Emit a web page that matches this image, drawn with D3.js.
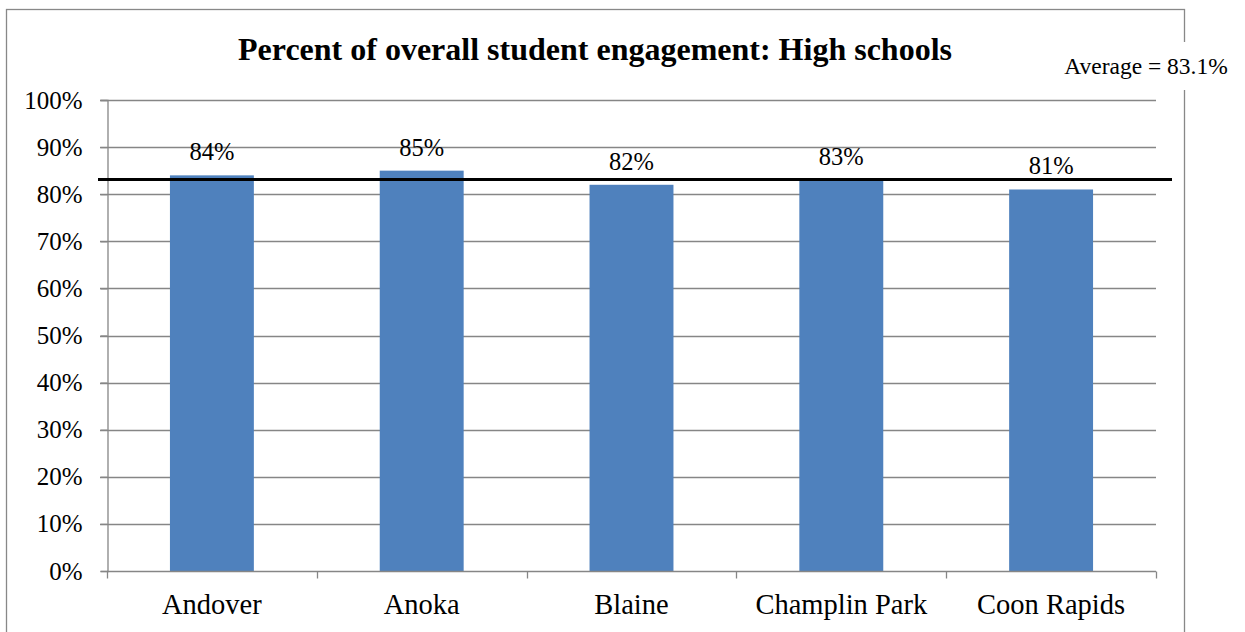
<!DOCTYPE html>
<html>
<head>
<meta charset="utf-8">
<script src="https://cdn.jsdelivr.net/npm/d3@7"></script>
<style>
  html, body { margin: 0; padding: 0; background: #fff; }
  svg { display: block; font-family: "Liberation Serif", "Times New Roman", serif; }
</style>
</head>
<body>
<svg id="chart" width="1245" height="632"></svg>
<script>
// Schools and their overall engagement percentages
const schools = ["Andover", "Anoka", "Blaine", "Champlin Park", "Coon Rapids"];
const engagement = [84, 85, 82, 83, 81];
const averageValue = 83.1;
const yTicks = [0, 10, 20, 30, 40, 50, 60, 70, 80, 90, 100];
const titleText = "Percent of overall student engagement: High schools";
const averageText = "Average = 83.1%";

const svg = d3.select("#chart");
const gridColor = "#868686";
const serif = "Liberation Serif, Times New Roman, serif";

// Outer chart frame
svg.append("rect")
  .attr("x", 6.5).attr("y", 9.5)
  .attr("width", 1178).attr("height", 640)
  .attr("fill", "#fff")
  .attr("stroke", "#888").attr("stroke-width", 1.3);

const plot = { left: 107, right: 1156, top: 100, bottom: 571 };

const x = d3.scaleBand()
  .domain(schools)
  .range([plot.left, plot.right])
  .paddingInner(0.6)
  .paddingOuter(0.3);

const xCat = d3.scaleBand().domain(schools).range([plot.left, plot.right]);

const y = d3.scaleLinear().domain([0, 100]).range([plot.bottom, plot.top]);

// Horizontal gridlines
svg.append("g").selectAll("line")
  .data(yTicks.filter(d => d > 0))
  .join("line")
  .attr("x1", plot.left - 7).attr("x2", plot.right)
  .attr("y1", d => Math.round(y(d)) + 0.5).attr("y2", d => Math.round(y(d)) + 0.5)
  .attr("stroke", gridColor).attr("stroke-width", 1.3);

// Y axis
const yAxis = svg.append("g")
  .attr("transform", `translate(${plot.left + 0.5},0)`)
  .call(d3.axisLeft(y).tickValues(yTicks).tickSize(7).tickFormat(d => d + "%").tickPadding(18));
yAxis.select(".domain").attr("stroke", gridColor).attr("stroke-width", 1.3);
yAxis.selectAll(".tick line").attr("stroke", gridColor).attr("stroke-width", 1.3);
yAxis.selectAll(".tick text")
  .attr("font-family", serif)
  .attr("font-size", 25).attr("fill", "#000");

// Bars
svg.append("g").selectAll("rect")
  .data(schools)
  .join("rect")
  .attr("x", d => x(d))
  .attr("width", x.bandwidth())
  .attr("y", (d, i) => y(engagement[i]))
  .attr("height", (d, i) => y(0) - y(engagement[i]))
  .attr("fill", "#4F81BD");

// X axis with ticks at category boundaries
const xAxisG = svg.append("g").attr("transform", `translate(0,${plot.bottom + 0.5})`);
xAxisG.append("line")
  .attr("x1", plot.left).attr("x2", plot.right)
  .attr("stroke", gridColor).attr("stroke-width", 1.3);
const boundaries = schools.map(s => xCat(s)).concat([plot.right]);
xAxisG.selectAll("line.tick")
  .data(boundaries)
  .join("line")
  .attr("class", "tick")
  .attr("x1", d => Math.round(d) + 0.5).attr("x2", d => Math.round(d) + 0.5)
  .attr("y1", 0).attr("y2", 7)
  .attr("stroke", gridColor).attr("stroke-width", 1.3);
xAxisG.selectAll("text")
  .data(schools)
  .join("text")
  .attr("x", d => xCat(d) + xCat.bandwidth() / 2)
  .attr("y", 42)
  .attr("text-anchor", "middle")
  .attr("font-family", serif)
  .attr("font-size", 28.5)
  .attr("fill", "#000")
  .text(d => d);

// Average reference line
svg.append("line")
  .attr("x1", 98).attr("x2", 1172)
  .attr("y1", y(averageValue)).attr("y2", y(averageValue))
  .attr("stroke", "#000").attr("stroke-width", 3);

// Value labels above bars
svg.append("g").selectAll("text")
  .data(schools)
  .join("text")
  .attr("x", d => x(d) + x.bandwidth() / 2)
  .attr("y", (d, i) => y(engagement[i]) - 15)
  .attr("text-anchor", "middle")
  .attr("font-family", serif)
  .attr("font-size", 24.5)
  .attr("fill", "#000")
  .text((d, i) => engagement[i] + "%");

// Title
svg.append("text")
  .attr("x", 595).attr("y", 60)
  .attr("text-anchor", "middle")
  .attr("font-family", serif)
  .attr("font-size", 32).attr("font-weight", "bold")
  .attr("fill", "#000")
  .text(titleText);

// Average label box
svg.append("rect")
  .attr("x", 1056).attr("y", 42)
  .attr("width", 180).attr("height", 48)
  .attr("fill", "#fff");
svg.append("text")
  .attr("x", 1146).attr("y", 74)
  .attr("text-anchor", "middle")
  .attr("font-family", serif)
  .attr("font-size", 23.5)
  .attr("fill", "#000")
  .text(averageText);
</script>
</body>
</html>
